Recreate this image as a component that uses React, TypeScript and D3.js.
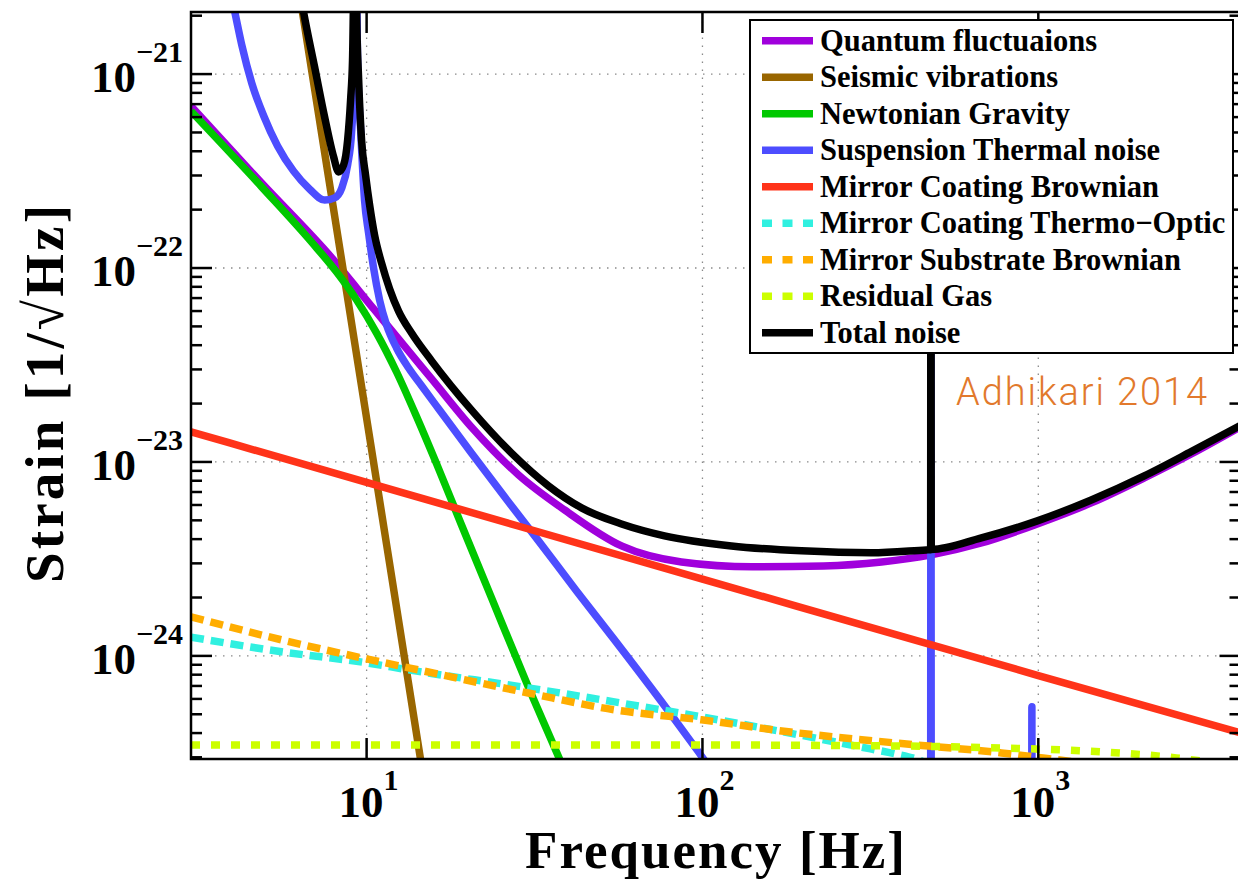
import React from "react";
import * as d3 from "d3";

type P = [number, number];

// ---- data (frequency in Hz, strain in 1/sqrt(Hz)) ----
const freqDomain: [number, number] = [3, 4000];
const strainDomain: [number, number] = [2.94e-25, 2.09e-21];
const xTicks = [10, 100, 1000];
const xTickExp = ["1", "2", "3"];
const yTicks = [1e-21, 1e-22, 1e-23, 1e-24];
const yTickExp = ["\u221221", "\u221222", "\u221223", "\u221224"];

const quantum: P[] = [[3, 6.84e-22], [4.87, 2.74e-22], [7.87, 1.13e-22], [10.56, 6.08e-23], [12.45, 4.31e-23], [15.62, 2.68e-23], [20.54, 1.51e-23], [28.35, 8.57e-24], [38.84, 5.66e-24], [57.41, 3.69e-24], [86.6, 3.05e-24], [140.8, 2.88e-24], [229.2, 2.91e-24], [341, 3.05e-24], [480, 3.32e-24], [676.9, 3.82e-24], [993.2, 4.79e-24], [1438, 6.15e-24], [2068, 8.28e-24], [2853, 1.1e-23], [4000, 1.52e-23]];
const seismic: P[] = [[6.2, 3.17e-21], [6.44, 2.09e-21], [10, 1.68e-23], [14.47, 2.94e-25], [15.5, 1.38e-25]];
const newtonian: P[] = [[3, 6.44e-22], [4.87, 2.62e-22], [6.86, 1.36e-22], [8.14, 9.53e-23], [9.34, 6.84e-23], [10.71, 4.62e-23], [12.28, 2.91e-23], [14.09, 1.71e-23], [16.16, 9.77e-24], [19.17, 4.73e-24], [23.55, 1.99e-24], [30.3, 6.92e-25], [37.53, 2.94e-25], [42.17, 1.81e-25]];
const suspension: P[] = [[3.86, 3.05e-21], [4.05, 2.09e-21], [4.25, 1.41e-21], [4.55, 8.99e-22], [4.94, 6.08e-22], [5.43, 4.26e-22], [6.06, 3.16e-22], [6.77, 2.55e-22], [7.5, 2.24e-22], [8.03, 2.3e-22], [8.43, 2.58e-22], [8.78, 3.4e-22], [9.03, 5.14e-22], [9.21, 1.18e-21], [9.26, 1e-20], [9.4, 1.18e-21], [9.6, 5.14e-22], [9.86, 2.24e-22], [10.14, 1.51e-22], [10.49, 1.0e-22], [10.93, 6.84e-23], [11.47, 5.08e-23], [12.28, 3.87e-23], [13.34, 3.05e-23], [14.58, 2.47e-23], [16.38, 1.88e-23], [20.54, 1.11e-23], [25.75, 6.61e-24], [32.5, 3.92e-24], [42.17, 2.16e-24], [54.72, 1.21e-24], [79.22, 5.2e-25], [97.3, 3.2e-25], [106.4, 2.58e-25], [150, 1.2e-25], [300, 4e-26], [478, 2.5e-26], [479, 8e-22], [480, 2.5e-26], [700, 1.8e-26], [955, 1.4e-26], [957, 5.46e-25], [959, 1.4e-26], [4000, 3e-27]];
const coatingBrownian: P[] = [[3, 1.43e-23], [10, 7.85e-24], [100, 2.49e-24], [1000, 7.92e-25], [4000, 4.01e-25]];
const coatingThermoOptic: P[] = [[3, 1.25e-24], [5.58, 1.05e-24], [10, 9.21e-25], [13.34, 8.47e-25], [30.3, 6.84e-25], [54.7, 5.79e-25], [99.3, 4.85e-25], [180.4, 4.01e-25], [293.1, 3.4e-25], [372.8, 3.13e-25], [433.5, 2.94e-25], [480.5, 2.74e-25]];
const substrateBrownian: P[] = [[3, 1.59e-24], [5.58, 1.21e-24], [10, 9.65e-25], [13.34, 8.68e-25], [30.3, 6.44e-25], [54.7, 5.27e-25], [99.3, 4.68e-25], [180.4, 4.06e-25], [372.8, 3.56e-25], [776.6, 3.16e-25], [1093, 2.94e-25], [1343, 2.81e-25]];
const residualGas: P[] = [[3, 3.47e-25], [99.3, 3.47e-25], [390.8, 3.43e-25], [776.6, 3.35e-25], [1540, 3.2e-25], [2575, 2.98e-25], [3056, 2.87e-25]];
const totalNoise: P[] = [[6.2, 3.3e-21], [6.49, 2.09e-21], [7.0, 1.09e-21], [7.5, 6.0e-22], [7.98, 3.73e-22], [8.25, 3.13e-22], [8.54, 3.4e-22], [8.78, 4.57e-22], [8.96, 7.35e-22], [9.08, 1.18e-21], [9.26, 1e-20], [9.34, 2.09e-21], [9.47, 9.31e-22], [9.66, 4.57e-22], [9.93, 3.01e-22], [10.21, 2.11e-22], [10.56, 1.48e-22], [11.08, 1.06e-22], [11.71, 7.8e-23], [12.45, 6.0e-23], [13.61, 4.62e-23], [15.62, 3.32e-23], [20.54, 1.85e-23], [27.01, 1.11e-23], [34.81, 7.52e-24], [43.64, 5.8e-24], [57.41, 4.79e-24], [77.09, 4.16e-24], [122, 3.69e-24], [197.1, 3.48e-24], [318.4, 3.4e-24], [464.2, 3.52e-24], [478, 3.53e-24], [479, 1e-21], [480, 3.54e-24], [676.9, 4.06e-24], [993.2, 4.97e-24], [1438, 6.37e-24], [2068, 8.47e-24], [2853, 1.13e-23], [4000, 1.545e-23]];

const seriesNames = ["Quantum fluctuaions", "Seismic vibrations", "Newtonian Gravity", "Suspension Thermal noise", "Mirror Coating Brownian", "Mirror Coating Thermo\u2212Optic", "Mirror Substrate Brownian", "Residual Gas", "Total noise"];
const seriesData = [quantum, seismic, newtonian, suspension, coatingBrownian, coatingThermoOptic, substrateBrownian, residualGas, totalNoise];
const seriesColors = ["#a000dc", "#996600", "#00c800", "#4d4dff", "#ff3319", "#30f0e0", "#ffad00", "#ccff00", "#000000"];
const seriesDash = [null, null, null, null, null, "13,7", "13,7", "9,11", null];

const W = 1238, H = 881;
const M = { left: 191, right: 1240.5, top: 12, bottom: 759 };
const SERIF = "'Liberation Serif', 'Times New Roman', Times, serif";

export default function App() {
  const x = d3.scaleLog().domain(freqDomain).range([M.left, M.right]);
  const y = d3.scaleLog().domain(strainDomain).range([M.bottom, M.top]);
  const line = d3.line<P>().x(d => x(d[0])).y(d => y(d[1])).curve(d3.curveMonotoneX);

  const minorY: number[] = [];
  for (let e = -25; e <= -21; e++) for (let m = 2; m <= 9; m++) {
    const v = m * Math.pow(10, e);
    if (v > strainDomain[0] && v < strainDomain[1]) minorY.push(v);
  }

  const legX = 750, legY = 20, legW = 483, legH = 333;
  const rowY = (i: number) => 40.7 + i * 36.5;

  return (
    <svg width={W} height={H} style={{ position: "absolute", left: 0, top: 0, background: "#fff" }}>
      <defs>
        <clipPath id="plotclip">
          <rect x={M.left} y={M.top} width={M.right - M.left} height={M.bottom - M.top} />
        </clipPath>
      </defs>
      <rect x={0} y={0} width={W} height={H} fill="#fff" />
      {/* grid */}
      <g stroke="#8a8a8a" strokeWidth={1.3} strokeDasharray="1.5,6.5">
        {xTicks.map(t => <line key={"gx" + t} x1={x(t)} x2={x(t)} y1={M.bottom} y2={M.top} />)}
        {yTicks.map(t => <line key={"gy" + t} x1={M.left} x2={M.right} y1={y(t)} y2={y(t)} />)}
      </g>
      {/* series */}
      <g clipPath="url(#plotclip)" fill="none" strokeLinejoin="round">
        {seriesData.map((d, i) => (
          <path key={"s" + i} d={line(d) || ""} stroke={seriesColors[i]} strokeWidth={7.5}
            strokeDasharray={seriesDash[i] || undefined} />
        ))}
      </g>
      {/* axes box and ticks */}
      <g stroke="#000" strokeWidth={2.5} fill="none">
        <rect x={M.left} y={M.top} width={M.right - M.left} height={M.bottom - M.top} />
        {xTicks.map(t => <line key={"tx" + t} x1={x(t)} x2={x(t)} y1={M.bottom} y2={M.bottom - 21} />)}
        {xTicks.map(t => <line key={"ttx" + t} x1={x(t)} x2={x(t)} y1={M.top} y2={M.top + 21} />)}
        {yTicks.map(t => <line key={"ty" + t} x1={M.left} x2={M.left + 21} y1={y(t)} y2={y(t)} />)}
        {yTicks.map(t => <line key={"tyr" + t} x1={M.right} x2={M.right - 21} y1={y(t)} y2={y(t)} />)}
        {minorY.map(t => <line key={"my" + t} x1={M.left} x2={M.left + 11} y1={y(t)} y2={y(t)} />)}
        {minorY.map(t => <line key={"myr" + t} x1={M.right} x2={M.right - 11} y1={y(t)} y2={y(t)} />)}
      </g>
      {/* tick labels */}
      <g fontFamily={SERIF} fontWeight="bold" fill="#000">
        {yTicks.map((t, i) => (
          <text key={"ly" + t} x={183} y={y(t) + 18} textAnchor="end" fontSize={45}>
            10<tspan fontSize={30} dy={-30}>{yTickExp[i]}</tspan>
          </text>
        ))}
        {xTicks.map((t, i) => (
          <text key={"lx" + t} x={x(t) + 2} y={M.bottom + 58} textAnchor="middle" fontSize={45}>
            10<tspan fontSize={30} dy={-27}>{xTickExp[i]}</tspan>
          </text>
        ))}
        <text x={715} y={868} textAnchor="middle" fontSize={53} textLength={380} lengthAdjust="spacing">Frequency [Hz]</text>
        <text transform="translate(63,394) rotate(-90)" textAnchor="middle" fontSize={55} textLength={378} lengthAdjust="spacing">Strain [1/{"\u221A"}Hz]</text>
      </g>
      {/* annotation */}
      <text x={956} y={405} fontFamily="Roboto, 'Open Sans', 'Liberation Sans', sans-serif" fontWeight={300} fontSize={38} fill="#e2792c" textLength={251} lengthAdjust="spacing">Adhikari 2014</text>
      {/* legend */}
      <g>
        <rect x={legX} y={legY} width={legW} height={legH} fill="#fff" stroke="#000" strokeWidth={2} />
        {seriesNames.map((n, i) => (
          <g key={"lg" + i}>
            <line x1={762} x2={813} y1={rowY(i)} y2={rowY(i)} stroke={seriesColors[i]} strokeWidth={7.5}
              strokeDasharray={seriesDash[i] ? "10,10.5" : undefined} />
            <text x={820} y={rowY(i) + 10} fontFamily={SERIF} fontWeight="bold" fontSize={30.5} fill="#000">{n}</text>
          </g>
        ))}
      </g>
    </svg>
  );
}
